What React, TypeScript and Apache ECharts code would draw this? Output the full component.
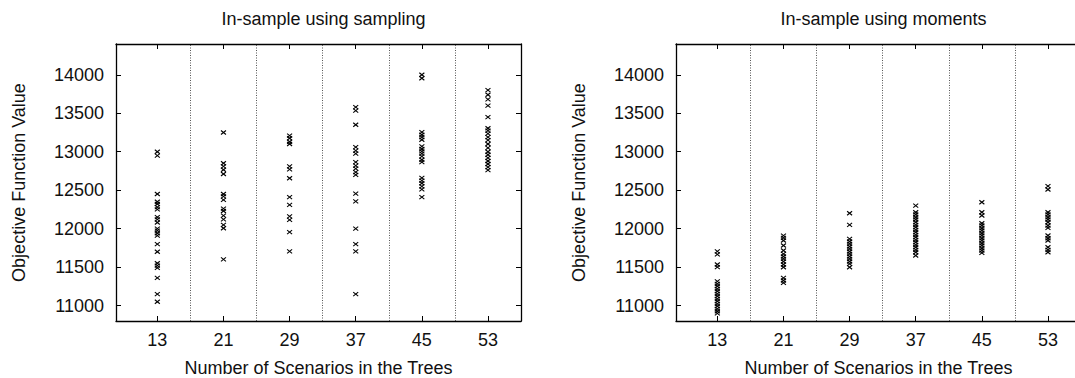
import React, { useEffect, useRef } from 'react';
import * as echarts from 'echarts';

const categories = [13, 21, 29, 37, 45, 53];
const dividers = [17, 25, 33, 41, 49];
const yTicks = [11000, 11500, 12000, 12500, 13000, 13500, 14000];

const titles = ['In-sample using sampling', 'In-sample using moments'];
const xAxisTitle = 'Number of Scenarios in the Trees';
const yAxisTitle = 'Objective Function Value';

// In-sample using sampling: one list per number of scenarios
const samplingValues = [
  [13000, 12950, 12450, 12350, 12320, 12280, 12250, 12150, 12120, 12080, 12000, 11975, 11940, 11910, 11800, 11700, 11550, 11520, 11490, 11360, 11150, 11050],
  [13250, 12850, 12810, 12765, 12710, 12450, 12420, 12375, 12260, 12230, 12170, 12120, 12050, 12005, 11600],
  [13210, 13175, 13130, 13100, 12810, 12770, 12655, 12410, 12310, 12160, 12115, 11955, 11705],
  [13580, 13535, 13350, 13060, 13015, 12975, 12865, 12820, 12780, 12735, 12700, 12455, 12355, 12000, 11800, 11705, 11150],
  [14000, 13955, 13255, 13220, 13190, 13155, 13070, 13035, 13005, 12975, 12940, 12895, 12865, 12660, 12625, 12590, 12550, 12510, 12410],
  [13800, 13740, 13680, 13600, 13450, 13305, 13275, 13235, 13190, 13150, 13100, 13050, 13000, 12960, 12920, 12880, 12840, 12800, 12760],
];

// In-sample using moments: one list per number of scenarios
const momentsValues = [
  [11705, 11665, 11535, 11500, 11315, 11283, 11252, 11218, 11187, 11153, 11122, 11088, 11057, 11023, 10992, 10958, 10927, 10900],
  [11910, 11881, 11846, 11781, 11716, 11673, 11638, 11608, 11573, 11534, 11499, 11361, 11326, 11296],
  [12200, 12050, 11868, 11833, 11803, 11768, 11738, 11703, 11673, 11638, 11608, 11573, 11543, 11499],
  [12300, 12214, 12184, 12149, 12119, 12084, 12050, 12019, 11985, 11954, 11920, 11889, 11855, 11824, 11790, 11759, 11725, 11694, 11651],
  [12344, 12214, 12171, 12071, 12041, 12006, 11976, 11941, 11911, 11876, 11846, 11811, 11781, 11746, 11716, 11686],
  [12552, 12509, 12214, 12184, 12149, 12119, 12084, 12041, 12011, 11911, 11876, 11846, 11759, 11725, 11694],
];

const FONT = '"Liberation Sans", Arial, Helvetica, sans-serif';
const FS = 18;
const X_MIN = 8;
const X_MAX = 57;
const Y_MIN = 10800;
const Y_MAX = 14400;

const gridLefts = [116, 676];
const GRID_TOP = 44;
const GRID_W = 405;
const GRID_H = 277;

function App() {
  const ref = useRef<HTMLDivElement>(null);

  useEffect(() => {
    if (!ref.current) return;
    const chart = echarts.init(ref.current, null, { renderer: 'svg' });

    const textStyle = { fontFamily: FONT, fontSize: FS, color: '#111', fontWeight: 'normal' as const };
    const grids: any[] = [];
    const xAxes: any[] = [];
    const yAxes: any[] = [];
    const series: any[] = [];
    const titleList: any[] = [];
    const datasets = [samplingValues, momentsValues];

    datasets.forEach((values, g) => {
      grids.push({
        left: gridLefts[g], top: GRID_TOP, width: GRID_W, height: GRID_H,
        containLabel: false, outerBoundsMode: 'none',
      });
      titleList.push({
        text: titles[g],
        left: gridLefts[g] + GRID_W / 2,
        top: 5,
        textAlign: 'center',
        textStyle: { ...textStyle },
      });
      const axisLine = { show: true, onZero: false, lineStyle: { color: '#000', width: 1.3 } };
      const tickX = { show: true, inside: true, length: 5, customValues: categories, lineStyle: { color: '#000', width: 1 } };
      const tickY = { show: true, inside: true, length: 5, customValues: yTicks, lineStyle: { color: '#000', width: 1 } };
      xAxes.push({
        gridIndex: g, type: 'value', min: X_MIN, max: X_MAX, position: 'bottom',
        axisLine, axisTick: tickX,
        axisLabel: { show: true, customValues: categories, margin: 10, formatter: (v: number) => String(v), ...textStyle },
        splitLine: { show: false },
        name: xAxisTitle, nameLocation: 'middle', nameGap: 38, nameTextStyle: { ...textStyle, lineHeight: 18 },
      });
      xAxes.push({
        gridIndex: g, type: 'value', min: X_MIN, max: X_MAX, position: 'top',
        axisLine, axisTick: tickX, axisLabel: { show: false }, splitLine: { show: false },
      });
      yAxes.push({
        gridIndex: g, type: 'value', min: Y_MIN, max: Y_MAX, position: 'left',
        axisLine, axisTick: tickY,
        axisLabel: { show: true, customValues: yTicks, margin: 12, formatter: (v: number) => String(v), ...textStyle },
        splitLine: { show: false },
        name: yAxisTitle, nameLocation: 'middle', nameGap: 88, nameRotate: 90, nameTextStyle: { ...textStyle },
      });
      yAxes.push({
        gridIndex: g, type: 'value', min: Y_MIN, max: Y_MAX, position: 'right',
        axisLine, axisTick: tickY, axisLabel: { show: false }, splitLine: { show: false },
      });

      const points: number[][] = [];
      categories.forEach((c, i) => values[i].forEach((v) => points.push([c, v])));

      series.push({
        type: 'custom',
        xAxisIndex: g * 2,
        yAxisIndex: g * 2,
        data: points,
        silent: true,
        renderItem: (_params: any, api: any) => {
          const p = api.coord([api.value(0), api.value(1)]);
          const h = 2.5;
          const v = 2;
          return {
            type: 'group',
            children: [
              { type: 'line', shape: { x1: p[0] - h, y1: p[1] - v, x2: p[0] + h, y2: p[1] + v }, style: { stroke: '#000', lineWidth: 1.1 } },
              { type: 'line', shape: { x1: p[0] - h, y1: p[1] + v, x2: p[0] + h, y2: p[1] - v }, style: { stroke: '#000', lineWidth: 1.1 } },
            ],
          };
        },
        markLine: {
          silent: true,
          symbol: ['none', 'none'],
          label: { show: false },
          lineStyle: { color: '#555', type: [1, 1.5], width: 1 },
          data: dividers.map((d) => ({ xAxis: d })),
        },
      });
    });

    chart.setOption({
      animation: false,
      backgroundColor: '#fff',
      title: titleList,
      grid: grids,
      xAxis: xAxes,
      yAxis: yAxes,
      series,
    });

    return () => chart.dispose();
  }, []);

  return (
    <div
      ref={ref}
      style={{ position: 'absolute', left: 0, top: 0, width: 1075, height: 378, overflow: 'hidden' }}
    />
  );
}

export default App;
